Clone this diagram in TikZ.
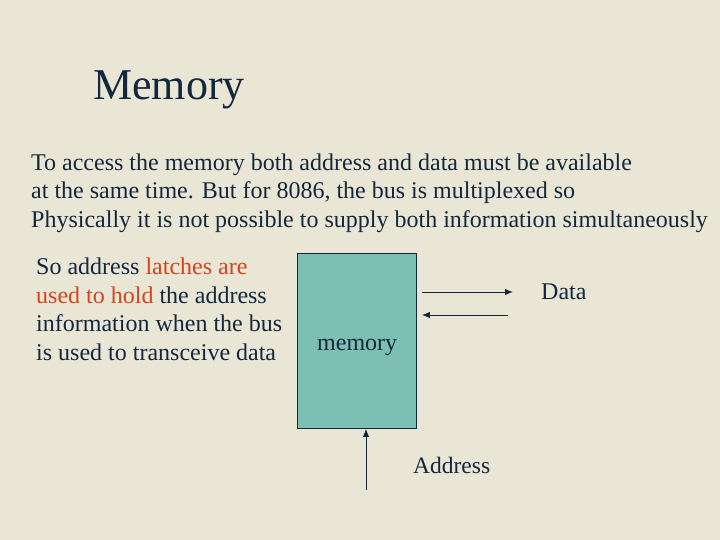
\documentclass[tikz,border=0pt]{standalone}
\usepackage{fontspec}
\setmainfont{Liberation Serif}
\usepackage{xcolor}
\usetikzlibrary{arrows.meta,positioning}
\definecolor{paper}{HTML}{E9E6D6}
\definecolor{inkblue}{HTML}{13283D}
\definecolor{latchred}{HTML}{D5441E}
\definecolor{memteal}{HTML}{7CBFB3}
\tikzset{
  txt/.style={inner sep=0, anchor=base west, text=inkblue},
  bus/.style={line width=0.9pt, inkblue, -{Latex[length=8pt,width=6.5pt]}}
}

\begin{document}
\begin{tikzpicture}[x=1pt, y=-1pt]
      % Background
      \fill[paper] (0,0) rectangle (720,540);
      \useasboundingbox (0,0) rectangle (720,540);
      % Title
      \node[txt, font=\fontsize{44}{50}\selectfont] (title) at (93,100) {Memory};
      % Intro text (anchored on its last line)
      \node[txt, font=\fontsize{24}{28.5}\selectfont, align=left] (intro) at (31,227)
        {To access the memory both address and data must be available\\
         at the same time. But for 8086, the bus is multiplexed so\\
         Physically it is not possible to supply both information simultaneously};
      % Latch text (anchored on its last line)
      \node[txt, font=\fontsize{24}{28.5}\selectfont, align=left] (latch) at (36,360)
        {So address \textcolor{latchred}{latches are}\\
         \textcolor{latchred}{used to hold} the address\\
         information when the bus\\
         is used to transceive data};
      % Memory block
      \node[draw=inkblue, fill=memteal, line width=0.9pt, minimum width=119pt,
            minimum height=175pt, anchor=north west, inner sep=0] (mem) at (297,253) {};
      \node[txt, font=\fontsize{24}{28}\selectfont] (memlbl) at (317,350) {memory};
      % Data bus
      \coordinate (dout) at (513,292);
      \coordinate (din) at (508,315);
      \draw[bus] ([xshift=5pt]mem.east |- dout) -- (dout);
      \draw[bus] (din) -- ([xshift=5pt]mem.east |- din);
      \node[txt, font=\fontsize{24}{28}\selectfont] (data) at (541,299) {Data};
      % Address bus
      \coordinate (abase) at (366,490);
      \draw[bus] (abase) -- (abase |- mem.south);
      \node[txt, font=\fontsize{23.5}{28}\selectfont] (addr) at (413,473) {Address};
\end{tikzpicture}
\end{document}
